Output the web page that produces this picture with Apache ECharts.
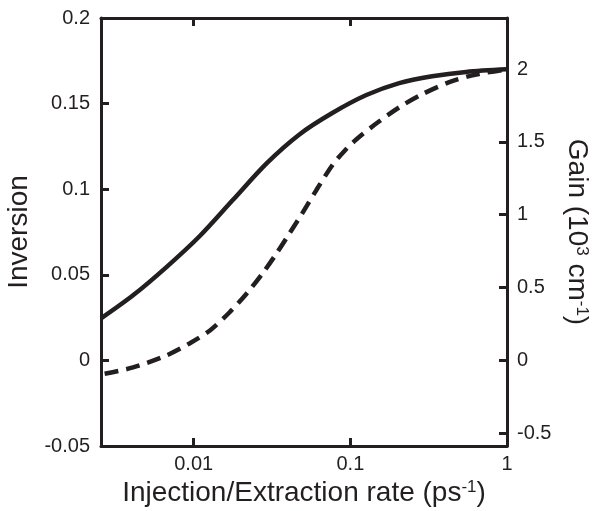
<!DOCTYPE html>
<html>
<head>
<meta charset="utf-8">
<script src="https://cdn.jsdelivr.net/npm/echarts@6/dist/echarts.min.js"></script>
<style>html,body{margin:0;padding:0;background:#fff;overflow:hidden}#c{width:593px;height:511px}</style>
</head>
<body>
<div id="c"></div>
<script>
// x: injection/extraction rate (ps^-1), log scale
const solidRate = [0.00256, 0.0041, 0.0067, 0.0109, 0.0177, 0.0292, 0.0473, 0.0767, 0.1265, 0.205, 0.333, 0.548, 1];
const solidInversion = [0.0245, 0.0380, 0.0545, 0.0725, 0.0935, 0.1151, 0.1320, 0.1445, 0.1550, 0.1620, 0.1660, 0.1685, 0.1700];
const dashedRate = [0.0027, 0.0041, 0.0067, 0.0094, 0.0127, 0.0169, 0.0218, 0.0275, 0.0338, 0.0409, 0.0494, 0.0607, 0.0767, 0.092, 0.109, 0.147, 0.205, 0.288, 0.428, 0.635, 1];
const dashedInversion = [-0.0078, -0.0041, 0.0029, 0.0099, 0.0175, 0.0280, 0.0391, 0.0508, 0.0625, 0.0742, 0.0860, 0.0995, 0.1140, 0.1225, 0.1290, 0.1385, 0.1478, 0.1555, 0.1625, 0.1670, 0.1700];
const xTickValues = [0.01, 0.1, 1];
const xTickLabels = ['0.01', '0.1', '1'];
const xMin = 0.00256, xMax = 1;
const leftTicks = [-0.05, 0, 0.05, 0.1, 0.15, 0.2];
const leftTickLabels = ['-0.05', '0', '0.05', '0.1', '0.15', '0.2'];
const gainPerInversion = 11.75; // right axis scale (10^3 cm^-1 per unit inversion)
const rightTicks = [-0.5, 0, 0.5, 1, 1.5, 2];

const lg = v => Math.log10(v);
const ink = '#231f20';
const font = 'Liberation Sans, Arial, Helvetica, sans-serif';
const xLabelMap = {};
xTickValues.forEach((v, i) => { xLabelMap[lg(v).toFixed(3)] = xTickLabels[i]; });
const yLabelMap = {};
leftTicks.forEach((v, i) => { yLabelMap[v.toFixed(3)] = leftTickLabels[i]; });

const chart = echarts.init(document.getElementById('c'), null, {renderer: 'canvas', width: 593, height: 511});
const mkLine = () => ({show: true, onZero: false, lineStyle: {color: ink, width: 3}});
const mkTick = vals => ({show: true, inside: true, length: 8, customValues: vals, lineStyle: {color: ink, width: 3}});
const rich = {sup: {fontSize: 17, color: ink, fontFamily: font, verticalAlign: 'top', lineHeight: 17}};
const xVals = xTickValues.map(lg);

chart.setOption({
  animation: false,
  grid: {left: 101, right: 86, top: 18, bottom: 65, containLabel: false, outerBoundsMode: 'none'},
  xAxis: [{
    type: 'value', position: 'bottom', min: lg(xMin), max: lg(xMax),
    axisLine: mkLine(), splitLine: {show: false},
    axisTick: mkTick(xVals),
    axisLabel: {customValues: xVals, color: ink, fontSize: 20, fontFamily: font, margin: 8,
      formatter: v => xLabelMap[Number(v).toFixed(3)] || ''},
    name: 'Injection/Extraction rate (ps{sup|-1})', nameLocation: 'middle', nameGap: 31,
    nameTextStyle: {color: ink, fontSize: 28, fontFamily: font, rich: rich}
  }, {
    type: 'value', position: 'top', min: lg(xMin), max: lg(xMax),
    axisLine: mkLine(), splitLine: {show: false},
    axisTick: mkTick(xVals),
    axisLabel: {show: false}
  }],
  yAxis: [{
    type: 'value', position: 'left', min: leftTicks[0], max: leftTicks[leftTicks.length - 1],
    axisLine: mkLine(), splitLine: {show: false}, axisTick: mkTick(leftTicks),
    axisLabel: {customValues: leftTicks, color: ink, fontSize: 20, fontFamily: font, margin: 11,
      formatter: v => yLabelMap[Number(v).toFixed(3)] || ''},
    name: 'Inversion', nameLocation: 'middle', nameGap: 50,
    nameTextStyle: {color: ink, fontSize: 28, fontFamily: font}
  }, {
    type: 'value', position: 'right', min: leftTicks[0] * gainPerInversion, max: leftTicks[leftTicks.length - 1] * gainPerInversion,
    axisLine: mkLine(), splitLine: {show: false},
    axisTick: mkTick(rightTicks),
    axisLabel: {customValues: rightTicks, color: ink, fontSize: 20, fontFamily: font, margin: 10},
    name: 'Gain (10{sup|3} cm{sup|-1})', nameLocation: 'middle', nameGap: 47, nameRotate: -90,
    nameTextStyle: {color: ink, fontSize: 28, fontFamily: font, rich: rich}
  }],
  series: [{
    type: 'line', xAxisIndex: 0, yAxisIndex: 0, showSymbol: false, smooth: 0.3,
    data: solidRate.map((r, i) => [lg(r), solidInversion[i]]),
    lineStyle: {color: ink, width: 4.5}
  }, {
    type: 'line', xAxisIndex: 0, yAxisIndex: 0, showSymbol: false, smooth: 0.3,
    data: dashedRate.map((r, i) => [lg(r), dashedInversion[i]]),
    lineStyle: {color: ink, width: 4.5, type: [14, 8]}
  }]
});
</script>
</body>
</html>
